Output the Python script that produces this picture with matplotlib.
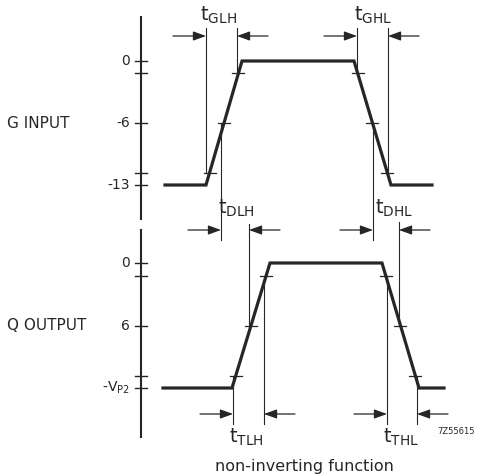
import matplotlib

matplotlib.use("Agg")

import matplotlib.pyplot as plt
import numpy as np

INK = "#262626"

# waveform breakpoints: time and fraction of the signal swing
G_TIME = [165, 206, 242, 354, 391, 432]
Q_TIME = [163, 232, 270, 382, 419, 444]
LEVELS = [0, 0, 1, 1, 0, 0]

# reference levels marked on the axis and on each edge
AXIS_LEVELS = [1.0, 0.9, 0.5, 0.1, 0.0]
EDGE_LEVELS = [0.9, 0.5, 0.1]
G_TICK_LEVELS = [1.0, 0.5, 0.0]
G_TICK_LABELS = ["0", "-6", "-13"]
Q_TICK_LEVELS = [1.0, 0.5, 0.0]
Q_TICK_LABELS = ["0", "6", r"-V$_{\mathregular{P2}}$"]

# timing intervals: name, left marker, right marker
TIMING_NAMES = ["GLH", "GHL", "DLH", "DHL", "TLH", "THL"]
TIMING_LEFT = [206, 357, 221, 373, 233, 387]
TIMING_RIGHT = [237, 388, 249, 399, 264, 417]

# vertical placement of the two traces (low level y, high level y)
G_PANEL = (185, 61)
Q_PANEL = (388, 263)


def level_y(panel, frac):
    low, high = panel
    return low - np.asarray(frac, dtype=float) * (low - high)


def draw_trace(ax, times, panel, axis_span, name, tick_levels, tick_labels):
    ax.plot(times, level_y(panel, LEVELS), color=INK, lw=2.3,
            solid_joinstyle="miter", zorder=3)

    # vertical axis with level ticks
    ax.plot([141, 141], axis_span, color=INK, lw=1.5)
    for lv in AXIS_LEVELS:
        y = level_y(panel, lv)
        ax.plot([135, 147], [y, y], color=INK, lw=1.0)
    for lv, lab in zip(tick_levels, tick_labels):
        ax.text(130, level_y(panel, lv), lab, ha="right", va="center",
                fontsize=10, color=INK)
    ax.text(7, level_y(panel, 0.5), name, ha="left", va="center",
            fontsize=11, color=INK)

    # small marks where the edges cross 10/50/90 %
    rise = (times[1], times[2])
    fall = (times[3], times[4])
    for lv in EDGE_LEVELS:
        y = level_y(panel, lv)
        for t in (np.interp(lv, [0, 1], rise), np.interp(lv, [0, 1], fall[::-1])):
            ax.plot([t - 6, t + 6], [y, y], color=INK, lw=0.9, zorder=4)


def draw_interval(ax, idx, arrow_y, left_span, right_span, label_xy):
    x1, x2 = TIMING_LEFT[idx], TIMING_RIGHT[idx]
    ax.plot([x1, x1], left_span, color=INK, lw=0.8)
    ax.plot([x2, x2], right_span, color=INK, lw=0.8)
    style = dict(arrowstyle="-|>,head_length=0.55,head_width=0.2",
                 color=INK, lw=0.9, shrinkA=0, shrinkB=0, mutation_scale=14)
    ax.annotate("", xy=(x1, arrow_y), xytext=(x1 - 33, arrow_y), arrowprops=style)
    ax.annotate("", xy=(x2, arrow_y), xytext=(x2 + 31, arrow_y), arrowprops=style)
    ax.text(label_xy[0], label_xy[1],
            r"$\mathregular{t_{%s}}$" % TIMING_NAMES[idx],
            ha="left", va="center", fontsize=14, color=INK)


fig = plt.figure(figsize=(4.85, 4.76), dpi=100)
ax = fig.add_axes([0, 0, 1, 1])
ax.set_xlim(0, 485)
ax.set_ylim(476, 0)
ax.axis("off")

draw_trace(ax, G_TIME, G_PANEL, (17, 219), "G INPUT", G_TICK_LEVELS, G_TICK_LABELS)
draw_trace(ax, Q_TIME, Q_PANEL, (230, 437), "Q OUTPUT", Q_TICK_LEVELS, Q_TICK_LABELS)

g10, g50, g90 = level_y(G_PANEL, [0.1, 0.5, 0.9])
q10, q50, q90 = level_y(Q_PANEL, [0.1, 0.5, 0.9])

draw_interval(ax, 0, 36, (28, g10), (28, g90), (200, 15))
draw_interval(ax, 1, 36, (28, g90), (28, g10), (354, 15))
draw_interval(ax, 2, 230, (g50, 240), (224, q50), (218, 208))
draw_interval(ax, 3, 230, (g50, 240), (222, q50), (375, 208))
draw_interval(ax, 4, 414, (q10, 424), (q90, 424), (229, 437))
draw_interval(ax, 5, 414, (q90, 424), (q10, 424), (383, 437))

ax.text(437, 431, "7Z55615", ha="left", va="center", fontsize=6, color=INK)
ax.text(304, 466, "non-inverting function", ha="center", va="center",
        fontsize=11.5, color=INK)

fig.savefig("out.png", dpi=100, facecolor="white")
